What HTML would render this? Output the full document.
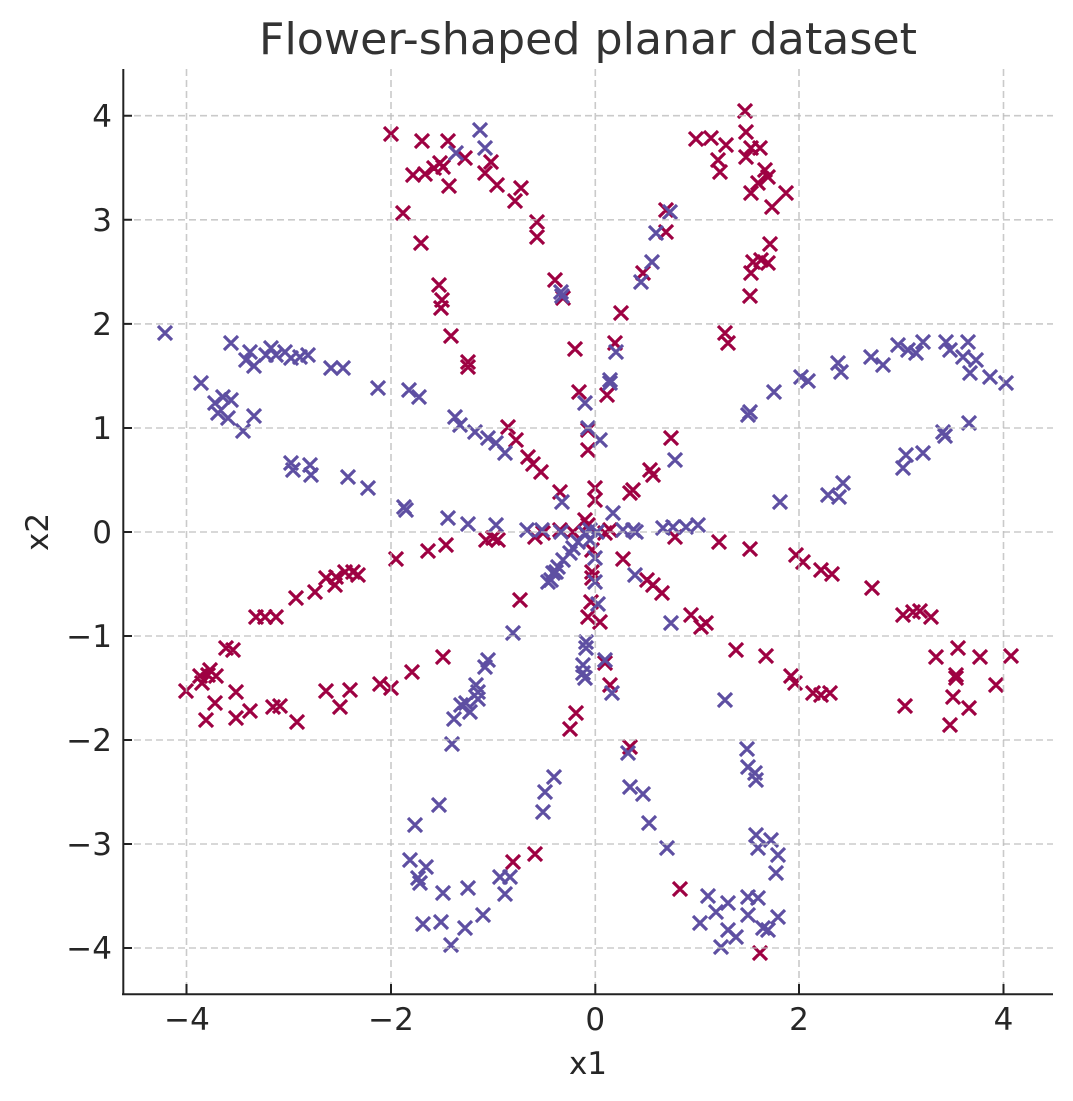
<!DOCTYPE html>
<html><head><meta charset="utf-8"><style>
html,body{margin:0;padding:0;background:#fff;}
svg{display:block;}
text{font-family:"DejaVu Sans","Liberation Sans",sans-serif;}
</style></head><body>
<svg width="1073" height="1101" viewBox="0 0 1073 1101" xmlns="http://www.w3.org/2000/svg">
<rect x="0" y="0" width="1073" height="1101" fill="#fff"/>
<text x="588" y="54" font-size="44" fill="#333" text-anchor="middle" textLength="658" lengthAdjust="spacingAndGlyphs">Flower-shaped planar dataset</text>
<g fill="none" stroke-width="3.2" stroke-linecap="butt">
<path stroke="#9e0142" d="M391 134m-7-7l14 14m0-14l-14 14M422 141m-7-7l14 14m0-14l-14 14M413 175m-7-7l14 14m0-14l-14 14M425 174m-7-7l14 14m0-14l-14 14M403 213m-7-7l14 14m0-14l-14 14M421 243m-7-7l14 14m0-14l-14 14M448 141m-7-7l14 14m0-14l-14 14M440 163m-7-7l14 14m0-14l-14 14M434 168m-7-7l14 14m0-14l-14 14M443 167m-7-7l14 14m0-14l-14 14M465 158m-7-7l14 14m0-14l-14 14M449 186m-7-7l14 14m0-14l-14 14M491 162m-7-7l14 14m0-14l-14 14M485 173m-7-7l14 14m0-14l-14 14M497 185m-7-7l14 14m0-14l-14 14M521 188m-7-7l14 14m0-14l-14 14M515 201m-7-7l14 14m0-14l-14 14M537 222m-7-7l14 14m0-14l-14 14M537 237m-7-7l14 14m0-14l-14 14M555 280m-7-7l14 14m0-14l-14 14M563 298m-7-7l14 14m0-14l-14 14M439 285m-7-7l14 14m0-14l-14 14M442 300m-7-7l14 14m0-14l-14 14M441 308m-7-7l14 14m0-14l-14 14M451 336m-7-7l14 14m0-14l-14 14M468 362m-7-7l14 14m0-14l-14 14M468 367m-7-7l14 14m0-14l-14 14M575 349m-7-7l14 14m0-14l-14 14M615 343m-7-7l14 14m0-14l-14 14M621 313m-7-7l14 14m0-14l-14 14M643 273m-7-7l14 14m0-14l-14 14M666 210m-7-7l14 14m0-14l-14 14M666 232m-7-7l14 14m0-14l-14 14M696 139m-7-7l14 14m0-14l-14 14M711 138m-7-7l14 14m0-14l-14 14M726 145m-7-7l14 14m0-14l-14 14M718 160m-7-7l14 14m0-14l-14 14M720 172m-7-7l14 14m0-14l-14 14M725 333m-7-7l14 14m0-14l-14 14M728 343m-7-7l14 14m0-14l-14 14M745 111m-7-7l14 14m0-14l-14 14M746 132m-7-7l14 14m0-14l-14 14M751 148m-7-7l14 14m0-14l-14 14M760 148m-7-7l14 14m0-14l-14 14M746 157m-7-7l14 14m0-14l-14 14M765 170m-7-7l14 14m0-14l-14 14M768 177m-7-7l14 14m0-14l-14 14M758 183m-7-7l14 14m0-14l-14 14M751 193m-7-7l14 14m0-14l-14 14M786 193m-7-7l14 14m0-14l-14 14M772 207m-7-7l14 14m0-14l-14 14M770 244m-7-7l14 14m0-14l-14 14M761 260m-7-7l14 14m0-14l-14 14M768 263m-7-7l14 14m0-14l-14 14M753 262m-7-7l14 14m0-14l-14 14M751 273m-7-7l14 14m0-14l-14 14M750 296m-7-7l14 14m0-14l-14 14M396 559m-7-7l14 14m0-14l-14 14M428 551m-7-7l14 14m0-14l-14 14M358 575m-7-7l14 14m0-14l-14 14M353 572m-7-7l14 14m0-14l-14 14M345 572m-7-7l14 14m0-14l-14 14M336 577m-7-7l14 14m0-14l-14 14M326 578m-7-7l14 14m0-14l-14 14M335 585m-7-7l14 14m0-14l-14 14M315 592m-7-7l14 14m0-14l-14 14M296 598m-7-7l14 14m0-14l-14 14M276 617m-7-7l14 14m0-14l-14 14M265 617m-7-7l14 14m0-14l-14 14M256 617m-7-7l14 14m0-14l-14 14M226 648m-7-7l14 14m0-14l-14 14M233 650m-7-7l14 14m0-14l-14 14M210 670m-7-7l14 14m0-14l-14 14M200 676m-7-7l14 14m0-14l-14 14M202 683m-7-7l14 14m0-14l-14 14M216 676m-7-7l14 14m0-14l-14 14M412 672m-7-7l14 14m0-14l-14 14M579 392m-7-7l14 14m0-14l-14 14M607 395m-7-7l14 14m0-14l-14 14M588 430m-7-7l14 14m0-14l-14 14M588 450m-7-7l14 14m0-14l-14 14M508 427m-7-7l14 14m0-14l-14 14M516 440m-7-7l14 14m0-14l-14 14M528 457m-7-7l14 14m0-14l-14 14M533 464m-7-7l14 14m0-14l-14 14M541 472m-7-7l14 14m0-14l-14 14M560 492m-7-7l14 14m0-14l-14 14M595 488m-7-7l14 14m0-14l-14 14M595 500m-7-7l14 14m0-14l-14 14M585 520m-7-7l14 14m0-14l-14 14M588 525m-7-7l14 14m0-14l-14 14M671 438m-7-7l14 14m0-14l-14 14M650 470m-7-7l14 14m0-14l-14 14M653 475m-7-7l14 14m0-14l-14 14M633 490m-7-7l14 14m0-14l-14 14M630 493m-7-7l14 14m0-14l-14 14M446 545m-7-7l14 14m0-14l-14 14M486 540m-7-7l14 14m0-14l-14 14M493 538m-7-7l14 14m0-14l-14 14M498 540m-7-7l14 14m0-14l-14 14M535 537m-7-7l14 14m0-14l-14 14M543 533m-7-7l14 14m0-14l-14 14M560 530m-7-7l14 14m0-14l-14 14M573 532m-7-7l14 14m0-14l-14 14M605 533m-7-7l14 14m0-14l-14 14M610 530m-7-7l14 14m0-14l-14 14M675 537m-7-7l14 14m0-14l-14 14M719 542m-7-7l14 14m0-14l-14 14M623 559m-7-7l14 14m0-14l-14 14M592 550m-7-7l14 14m0-14l-14 14M592 572m-7-7l14 14m0-14l-14 14M592 578m-7-7l14 14m0-14l-14 14M647 580m-7-7l14 14m0-14l-14 14M653 585m-7-7l14 14m0-14l-14 14M662 593m-7-7l14 14m0-14l-14 14M591 602m-7-7l14 14m0-14l-14 14M588 617m-7-7l14 14m0-14l-14 14M600 622m-7-7l14 14m0-14l-14 14M520 600m-7-7l14 14m0-14l-14 14M691 615m-7-7l14 14m0-14l-14 14M706 623m-7-7l14 14m0-14l-14 14M701 627m-7-7l14 14m0-14l-14 14M736 650m-7-7l14 14m0-14l-14 14M443 657m-7-7l14 14m0-14l-14 14M605 663m-7-7l14 14m0-14l-14 14M750 549m-7-7l14 14m0-14l-14 14M796 555m-7-7l14 14m0-14l-14 14M803 562m-7-7l14 14m0-14l-14 14M821 570m-7-7l14 14m0-14l-14 14M832 574m-7-7l14 14m0-14l-14 14M872 588m-7-7l14 14m0-14l-14 14M903 615m-7-7l14 14m0-14l-14 14M913 612m-7-7l14 14m0-14l-14 14M920 611m-7-7l14 14m0-14l-14 14M931 617m-7-7l14 14m0-14l-14 14M766 656m-7-7l14 14m0-14l-14 14M956 675m-7-7l14 14m0-14l-14 14M936 657m-7-7l14 14m0-14l-14 14M958 648m-7-7l14 14m0-14l-14 14M980 657m-7-7l14 14m0-14l-14 14M1011 656m-7-7l14 14m0-14l-14 14M186 691m-7-7l14 14m0-14l-14 14M208 675m-7-7l14 14m0-14l-14 14M215 703m-7-7l14 14m0-14l-14 14M236 692m-7-7l14 14m0-14l-14 14M206 720m-7-7l14 14m0-14l-14 14M236 718m-7-7l14 14m0-14l-14 14M250 711m-7-7l14 14m0-14l-14 14M273 707m-7-7l14 14m0-14l-14 14M280 706m-7-7l14 14m0-14l-14 14M297 722m-7-7l14 14m0-14l-14 14M326 691m-7-7l14 14m0-14l-14 14M340 707m-7-7l14 14m0-14l-14 14M350 690m-7-7l14 14m0-14l-14 14M380 684m-7-7l14 14m0-14l-14 14M391 688m-7-7l14 14m0-14l-14 14M576 713m-7-7l14 14m0-14l-14 14M570 729m-7-7l14 14m0-14l-14 14M513 862m-7-7l14 14m0-14l-14 14M535 854m-7-7l14 14m0-14l-14 14M610 685m-7-7l14 14m0-14l-14 14M630 747m-7-7l14 14m0-14l-14 14M680 889m-7-7l14 14m0-14l-14 14M791 676m-7-7l14 14m0-14l-14 14M795 683m-7-7l14 14m0-14l-14 14M813 693m-7-7l14 14m0-14l-14 14M821 695m-7-7l14 14m0-14l-14 14M830 693m-7-7l14 14m0-14l-14 14M905 706m-7-7l14 14m0-14l-14 14M956 678m-7-7l14 14m0-14l-14 14M953 697m-7-7l14 14m0-14l-14 14M969 708m-7-7l14 14m0-14l-14 14M950 725m-7-7l14 14m0-14l-14 14M996 685m-7-7l14 14m0-14l-14 14M760 953m-7-7l14 14m0-14l-14 14"/>
<path stroke="#5e4fa2" d="M165 333m-7-7l14 14m0-14l-14 14M231 343m-7-7l14 14m0-14l-14 14M250 352m-7-7l14 14m0-14l-14 14M246 360m-7-7l14 14m0-14l-14 14M254 366m-7-7l14 14m0-14l-14 14M271 348m-7-7l14 14m0-14l-14 14M266 355m-7-7l14 14m0-14l-14 14M276 355m-7-7l14 14m0-14l-14 14M285 352m-7-7l14 14m0-14l-14 14M291 358m-7-7l14 14m0-14l-14 14M308 355m-7-7l14 14m0-14l-14 14M300 357m-7-7l14 14m0-14l-14 14M331 368m-7-7l14 14m0-14l-14 14M343 368m-7-7l14 14m0-14l-14 14M480 130m-7-7l14 14m0-14l-14 14M456 153m-7-7l14 14m0-14l-14 14M485 148m-7-7l14 14m0-14l-14 14M561 292m-7-7l14 14m0-14l-14 14M562 296m-7-7l14 14m0-14l-14 14M641 282m-7-7l14 14m0-14l-14 14M652 262m-7-7l14 14m0-14l-14 14M656 233m-7-7l14 14m0-14l-14 14M670 212m-7-7l14 14m0-14l-14 14M616 352m-7-7l14 14m0-14l-14 14M610 380m-7-7l14 14m0-14l-14 14M801 377m-7-7l14 14m0-14l-14 14M808 381m-7-7l14 14m0-14l-14 14M838 363m-7-7l14 14m0-14l-14 14M841 372m-7-7l14 14m0-14l-14 14M871 357m-7-7l14 14m0-14l-14 14M883 365m-7-7l14 14m0-14l-14 14M898 345m-7-7l14 14m0-14l-14 14M908 350m-7-7l14 14m0-14l-14 14M916 353m-7-7l14 14m0-14l-14 14M923 342m-7-7l14 14m0-14l-14 14M946 342m-7-7l14 14m0-14l-14 14M950 350m-7-7l14 14m0-14l-14 14M968 342m-7-7l14 14m0-14l-14 14M963 357m-7-7l14 14m0-14l-14 14M976 360m-7-7l14 14m0-14l-14 14M970 373m-7-7l14 14m0-14l-14 14M990 377m-7-7l14 14m0-14l-14 14M1006 383m-7-7l14 14m0-14l-14 14M201 383m-7-7l14 14m0-14l-14 14M215 403m-7-7l14 14m0-14l-14 14M223 397m-7-7l14 14m0-14l-14 14M231 400m-7-7l14 14m0-14l-14 14M218 413m-7-7l14 14m0-14l-14 14M228 418m-7-7l14 14m0-14l-14 14M243 431m-7-7l14 14m0-14l-14 14M254 416m-7-7l14 14m0-14l-14 14M291 463m-7-7l14 14m0-14l-14 14M293 470m-7-7l14 14m0-14l-14 14M310 465m-7-7l14 14m0-14l-14 14M311 475m-7-7l14 14m0-14l-14 14M348 477m-7-7l14 14m0-14l-14 14M368 488m-7-7l14 14m0-14l-14 14M406 510m-7-7l14 14m0-14l-14 14M404 507m-7-7l14 14m0-14l-14 14M378 388m-7-7l14 14m0-14l-14 14M409 390m-7-7l14 14m0-14l-14 14M419 397m-7-7l14 14m0-14l-14 14M610 383m-7-7l14 14m0-14l-14 14M585 403m-7-7l14 14m0-14l-14 14M455 417m-7-7l14 14m0-14l-14 14M460 425m-7-7l14 14m0-14l-14 14M475 432m-7-7l14 14m0-14l-14 14M488 438m-7-7l14 14m0-14l-14 14M496 443m-7-7l14 14m0-14l-14 14M505 453m-7-7l14 14m0-14l-14 14M588 428m-7-7l14 14m0-14l-14 14M600 440m-7-7l14 14m0-14l-14 14M675 460m-7-7l14 14m0-14l-14 14M562 502m-7-7l14 14m0-14l-14 14M613 513m-7-7l14 14m0-14l-14 14M448 518m-7-7l14 14m0-14l-14 14M468 524m-7-7l14 14m0-14l-14 14M496 525m-7-7l14 14m0-14l-14 14M527 530m-7-7l14 14m0-14l-14 14M542 530m-7-7l14 14m0-14l-14 14M561 532m-7-7l14 14m0-14l-14 14M585 533m-7-7l14 14m0-14l-14 14M590 530m-7-7l14 14m0-14l-14 14M597 532m-7-7l14 14m0-14l-14 14M590 540m-7-7l14 14m0-14l-14 14M578 542m-7-7l14 14m0-14l-14 14M573 548m-7-7l14 14m0-14l-14 14M570 553m-7-7l14 14m0-14l-14 14M563 560m-7-7l14 14m0-14l-14 14M558 567m-7-7l14 14m0-14l-14 14M553 573m-7-7l14 14m0-14l-14 14M548 582m-7-7l14 14m0-14l-14 14M551 580m-7-7l14 14m0-14l-14 14M556 572m-7-7l14 14m0-14l-14 14M623 530m-7-7l14 14m0-14l-14 14M633 530m-7-7l14 14m0-14l-14 14M636 532m-7-7l14 14m0-14l-14 14M663 528m-7-7l14 14m0-14l-14 14M673 527m-7-7l14 14m0-14l-14 14M686 527m-7-7l14 14m0-14l-14 14M698 525m-7-7l14 14m0-14l-14 14M595 558m-7-7l14 14m0-14l-14 14M595 582m-7-7l14 14m0-14l-14 14M635 575m-7-7l14 14m0-14l-14 14M598 604m-7-7l14 14m0-14l-14 14M671 623m-7-7l14 14m0-14l-14 14M513 633m-7-7l14 14m0-14l-14 14M586 642m-7-7l14 14m0-14l-14 14M586 648m-7-7l14 14m0-14l-14 14M605 660m-7-7l14 14m0-14l-14 14M488 660m-7-7l14 14m0-14l-14 14M485 667m-7-7l14 14m0-14l-14 14M583 665m-7-7l14 14m0-14l-14 14M583 673m-7-7l14 14m0-14l-14 14M750 412m-7-7l14 14m0-14l-14 14M748 415m-7-7l14 14m0-14l-14 14M774 392m-7-7l14 14m0-14l-14 14M969 423m-7-7l14 14m0-14l-14 14M943 432m-7-7l14 14m0-14l-14 14M945 436m-7-7l14 14m0-14l-14 14M923 453m-7-7l14 14m0-14l-14 14M906 455m-7-7l14 14m0-14l-14 14M903 468m-7-7l14 14m0-14l-14 14M843 483m-7-7l14 14m0-14l-14 14M828 495m-7-7l14 14m0-14l-14 14M839 497m-7-7l14 14m0-14l-14 14M780 502m-7-7l14 14m0-14l-14 14M415 825m-7-7l14 14m0-14l-14 14M410 860m-7-7l14 14m0-14l-14 14M418 878m-7-7l14 14m0-14l-14 14M420 883m-7-7l14 14m0-14l-14 14M426 867m-7-7l14 14m0-14l-14 14M423 924m-7-7l14 14m0-14l-14 14M476 685m-7-7l14 14m0-14l-14 14M478 692m-7-7l14 14m0-14l-14 14M466 703m-7-7l14 14m0-14l-14 14M461 705m-7-7l14 14m0-14l-14 14M470 712m-7-7l14 14m0-14l-14 14M478 699m-7-7l14 14m0-14l-14 14M454 719m-7-7l14 14m0-14l-14 14M452 744m-7-7l14 14m0-14l-14 14M439 805m-7-7l14 14m0-14l-14 14M443 893m-7-7l14 14m0-14l-14 14M468 888m-7-7l14 14m0-14l-14 14M441 922m-7-7l14 14m0-14l-14 14M465 928m-7-7l14 14m0-14l-14 14M451 945m-7-7l14 14m0-14l-14 14M483 915m-7-7l14 14m0-14l-14 14M500 877m-7-7l14 14m0-14l-14 14M510 877m-7-7l14 14m0-14l-14 14M505 894m-7-7l14 14m0-14l-14 14M543 812m-7-7l14 14m0-14l-14 14M545 792m-7-7l14 14m0-14l-14 14M554 777m-7-7l14 14m0-14l-14 14M585 678m-7-7l14 14m0-14l-14 14M612 693m-7-7l14 14m0-14l-14 14M628 753m-7-7l14 14m0-14l-14 14M630 787m-7-7l14 14m0-14l-14 14M643 794m-7-7l14 14m0-14l-14 14M649 823m-7-7l14 14m0-14l-14 14M667 848m-7-7l14 14m0-14l-14 14M725 700m-7-7l14 14m0-14l-14 14M708 896m-7-7l14 14m0-14l-14 14M700 923m-7-7l14 14m0-14l-14 14M716 912m-7-7l14 14m0-14l-14 14M728 903m-7-7l14 14m0-14l-14 14M728 930m-7-7l14 14m0-14l-14 14M721 947m-7-7l14 14m0-14l-14 14M736 937m-7-7l14 14m0-14l-14 14M747 749m-7-7l14 14m0-14l-14 14M748 767m-7-7l14 14m0-14l-14 14M755 773m-7-7l14 14m0-14l-14 14M756 780m-7-7l14 14m0-14l-14 14M756 835m-7-7l14 14m0-14l-14 14M758 848m-7-7l14 14m0-14l-14 14M771 840m-7-7l14 14m0-14l-14 14M778 855m-7-7l14 14m0-14l-14 14M776 873m-7-7l14 14m0-14l-14 14M748 897m-7-7l14 14m0-14l-14 14M758 898m-7-7l14 14m0-14l-14 14M748 915m-7-7l14 14m0-14l-14 14M778 917m-7-7l14 14m0-14l-14 14M763 928m-7-7l14 14m0-14l-14 14M768 930m-7-7l14 14m0-14l-14 14"/>
</g>
<g stroke="#bdbdbd" stroke-opacity="0.8" stroke-width="1.6" stroke-dasharray="7 4" fill="none">
<path d="M186.5 69V994M391 69V994M595.3 69V994M799 69V994M1003.5 69V994"/>
<path d="M123 115.7H1053M123 219.8H1053M123 323.9H1053M123 428H1053M123 532H1053M123 636H1053M123 740H1053M123 844H1053M123 948H1053"/>
</g>
<g stroke="#222" stroke-width="2" fill="none">
<path d="M123.3 69V995.3M122 994.3H1053"/>
<path d="M123 115.7h9M123 219.8h9M123 323.9h9M123 428h9M123 532h9M123 636h9M123 740h9M123 844h9M123 948h9"/>
<path d="M186.5 994v-10M391 994v-10M595.3 994v-10M799 994v-10M1003.5 994v-10"/>
</g>
<g font-size="31" fill="#262626" text-anchor="end">
<text x="112" y="127">4</text>
<text x="112" y="231">3</text>
<text x="112" y="335">2</text>
<text x="112" y="439">1</text>
<text x="112" y="543">0</text>
<text x="112" y="647">−1</text>
<text x="112" y="751">−2</text>
<text x="112" y="855">−3</text>
<text x="112" y="959">−4</text>
</g>
<g font-size="31" fill="#262626" text-anchor="middle">
<text x="187" y="1030">−4</text>
<text x="391" y="1030">−2</text>
<text x="595.3" y="1030">0</text>
<text x="799" y="1030">2</text>
<text x="1003.5" y="1030">4</text>
</g>
<text x="588" y="1074" font-size="31" fill="#262626" text-anchor="middle">x1</text>
<text transform="translate(48,532) rotate(-90)" font-size="31" fill="#262626" text-anchor="middle">x2</text>
</svg>
</body></html>
